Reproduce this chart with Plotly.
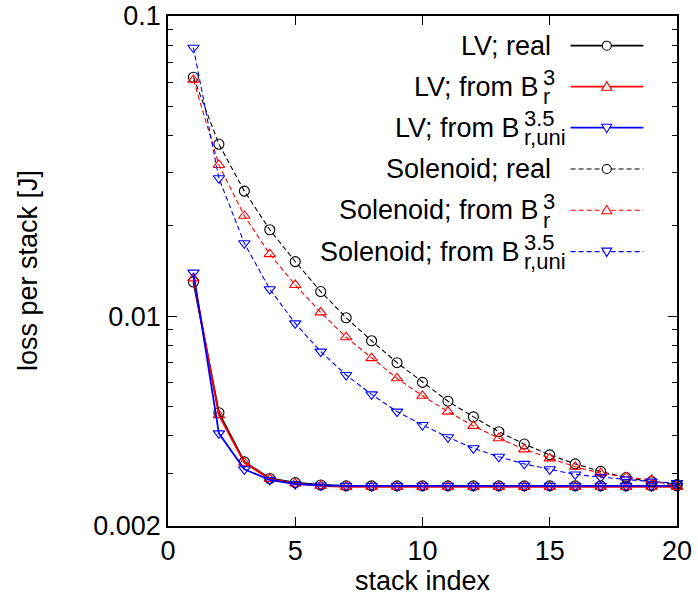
import plotly.graph_objects as go

# stack index (1..20)
stack_index = list(range(1, 21))

# loss per stack [J], LV case
lv_real = [0.0130, 0.00477, 0.00327, 0.00288, 0.00279, 0.00274, 0.00272, 0.00272, 0.00272, 0.00272,
           0.00272, 0.00272, 0.00272, 0.00272, 0.00272, 0.00272, 0.00272, 0.00272, 0.00272, 0.00272]
lv_b3 = [0.01336, 0.00468, 0.00325, 0.00287, 0.00277, 0.00272, 0.00270, 0.00270, 0.00270, 0.00270,
         0.00270, 0.00270, 0.00270, 0.00270, 0.00270, 0.00270, 0.00270, 0.00270, 0.00270, 0.00270]
lv_b35 = [0.01397, 0.00407, 0.00309, 0.00285, 0.00276, 0.00273, 0.00272, 0.00272, 0.00272, 0.00272,
          0.00272, 0.00272, 0.00272, 0.00272, 0.00272, 0.00272, 0.00272, 0.00272, 0.00272, 0.00272]

# loss per stack [J], solenoid case
sol_real = [0.0625, 0.0374, 0.0261, 0.0194, 0.0152, 0.01208, 0.00988, 0.00828, 0.00700, 0.00602,
            0.00521, 0.00462, 0.00412, 0.00375, 0.00345, 0.00322, 0.00304, 0.00290, 0.00281, 0.00275]
sol_b3 = [0.0613, 0.0319, 0.0216, 0.0161, 0.0127, 0.0103, 0.00851, 0.00725, 0.00621, 0.00543,
          0.00481, 0.00431, 0.00392, 0.00360, 0.00336, 0.00315, 0.00300, 0.00291, 0.00285, 0.00270]
sol_b35 = [0.0784, 0.0288, 0.0175, 0.0123, 0.00946, 0.00762, 0.00637, 0.00549, 0.00481, 0.00434,
           0.00395, 0.00363, 0.00340, 0.00322, 0.00309, 0.00297, 0.00291, 0.00286, 0.00281, 0.00278]

x_ticks = [0, 5, 10, 15, 20]
y_ticks = [0.002, 0.01, 0.1]
y_tick_text = ["0.002", "0.01", "0.1"]
y_minor = [0.003, 0.004, 0.005, 0.006, 0.007, 0.008, 0.009,
           0.02, 0.03, 0.04, 0.05, 0.06, 0.07, 0.08, 0.09]

FONT = "Liberation Sans, Arial, Helvetica, sans-serif"
FS = 27        # main text size
FS_SCRIPT = 22  # super/subscript size
BLACK, RED, BLUE = "#000000", "#ff0000", "#0000ff"
DASH = "5px,3px"

# (name, values, colour, symbol, dash, line width, main text, sup, sub)
series = [
    ("LV; real", lv_real, BLACK, "circle-open", "solid", 1.8, "LV; real", None, None),
    ("LV; from B3", lv_b3, RED, "triangle-up-open", "solid", 1.8, "LV; from B", "3", "r"),
    ("LV; from B3.5", lv_b35, BLUE, "triangle-down-open", "solid", 1.8, "LV; from B", "3.5", "r,uni"),
    ("Solenoid; real", sol_real, BLACK, "circle-open", DASH, 1.1, "Solenoid; real", None, None),
    ("Solenoid; from B3", sol_b3, RED, "triangle-up-open", DASH, 1.1, "Solenoid; from B", "3", "r"),
    ("Solenoid; from B3.5", sol_b35, BLUE, "triangle-down-open", DASH, 1.1, "Solenoid; from B", "3.5", "r,uni"),
]

fig = go.Figure()
for name, vals, col, sym, dash, lw, *_ in series:
    fig.add_trace(go.Scatter(
        x=stack_index, y=vals, name=name, mode="lines+markers",
        line=dict(color=col, width=lw, dash=dash),
        marker=dict(symbol=sym, size=10, color=col, line=dict(color=col, width=1.1)),
        cliponaxis=False, showlegend=False,
    ))

# key drawn inside the frame: right-aligned text, line sample with a marker on the right
row_y = [0.9418, 0.8614, 0.781, 0.700, 0.619, 0.538]
text_right = 0.756
sample_x0, sample_x1, marker_x = 0.791, 0.934, 0.862
sup_w = {"3": 0.024, "3.5": 0.060}

annotations = []
shapes = []
for (name, vals, col, sym, dash, lw, main, sup, sub), yy in zip(series, row_y):
    if sup is None:
        annotations.append(dict(x=text_right, y=yy, xref="paper", yref="paper", text=main,
                                showarrow=False, xanchor="right", yanchor="middle",
                                font=dict(size=FS, color=BLACK, family=FONT)))
    else:
        xb = text_right - sup_w[sup]
        annotations.append(dict(x=xb, y=yy, xref="paper", yref="paper", text=main,
                                showarrow=False, xanchor="right", yanchor="middle",
                                font=dict(size=FS, color=BLACK, family=FONT)))
        annotations.append(dict(x=xb, y=yy, yshift=9, xref="paper", yref="paper", text=sup,
                                showarrow=False, xanchor="left", yanchor="middle",
                                font=dict(size=FS_SCRIPT, color=BLACK, family=FONT)))
        annotations.append(dict(x=xb, y=yy, yshift=-10, xref="paper", yref="paper", text=sub,
                                showarrow=False, xanchor="left", yanchor="middle",
                                font=dict(size=FS_SCRIPT, color=BLACK, family=FONT)))
    shapes.append(dict(type="line", xref="paper", yref="paper", x0=sample_x0, x1=sample_x1,
                       y0=yy, y1=yy, line=dict(color=col, width=lw, dash=dash)))
    common = dict(xref="paper", yref="paper", xsizemode="pixel", ysizemode="pixel",
                  xanchor=marker_x, yanchor=yy, line=dict(color=col, width=1.1),
                  fillcolor="white")
    if sym == "circle-open":
        shapes.append(dict(type="circle", x0=-4.5, x1=4.5, y0=-4.5, y1=4.5, **common))
    elif sym == "triangle-up-open":
        shapes.append(dict(type="path", path="M -5 -3.5 L 5 -3.5 L 0 5 Z", **common))
    else:
        shapes.append(dict(type="path", path="M -5 3.5 L 5 3.5 L 0 -5 Z", **common))

# axis titles
annotations.append(dict(x=0.5, y=-0.107, xref="paper", yref="paper", text="stack index",
                        showarrow=False, xanchor="center", yanchor="middle",
                        font=dict(size=FS, color=BLACK, family=FONT)))
annotations.append(dict(x=-0.275, y=0.5, xref="paper", yref="paper", text="loss per stack [J]",
                        showarrow=False, textangle=-90, xanchor="center", yanchor="middle",
                        font=dict(size=FS, color=BLACK, family=FONT)))

fig.update_layout(
    width=698, height=606,
    margin=dict(l=168, r=21, t=16, b=80, autoexpand=False),
    plot_bgcolor="white", paper_bgcolor="white",
    font=dict(family=FONT, size=FS, color=BLACK),
    annotations=annotations, shapes=shapes,
)
fig.update_xaxes(
    range=[0, 20], tickvals=x_ticks, ticks="inside", ticklen=9, tickwidth=1.2,
    tickcolor=BLACK, showline=True, linecolor=BLACK, linewidth=1.5, mirror="ticks",
    showgrid=False, zeroline=False, automargin=False,
    tickfont=dict(size=FS, family=FONT, color=BLACK),
)
fig.update_yaxes(
    type="log", range=[-2.69897, -1], tickvals=y_ticks, ticktext=y_tick_text,
    ticks="inside", ticklen=9, tickwidth=1.2, tickcolor=BLACK,
    minor=dict(tickvals=y_minor, ticks="inside", ticklen=5, tickwidth=1.2, tickcolor=BLACK),
    showline=True, linecolor=BLACK, linewidth=1.5, mirror="ticks",
    showgrid=False, zeroline=False, automargin=False,
    tickfont=dict(size=FS, family=FONT, color=BLACK),
)

fig.write_html("out.html")
